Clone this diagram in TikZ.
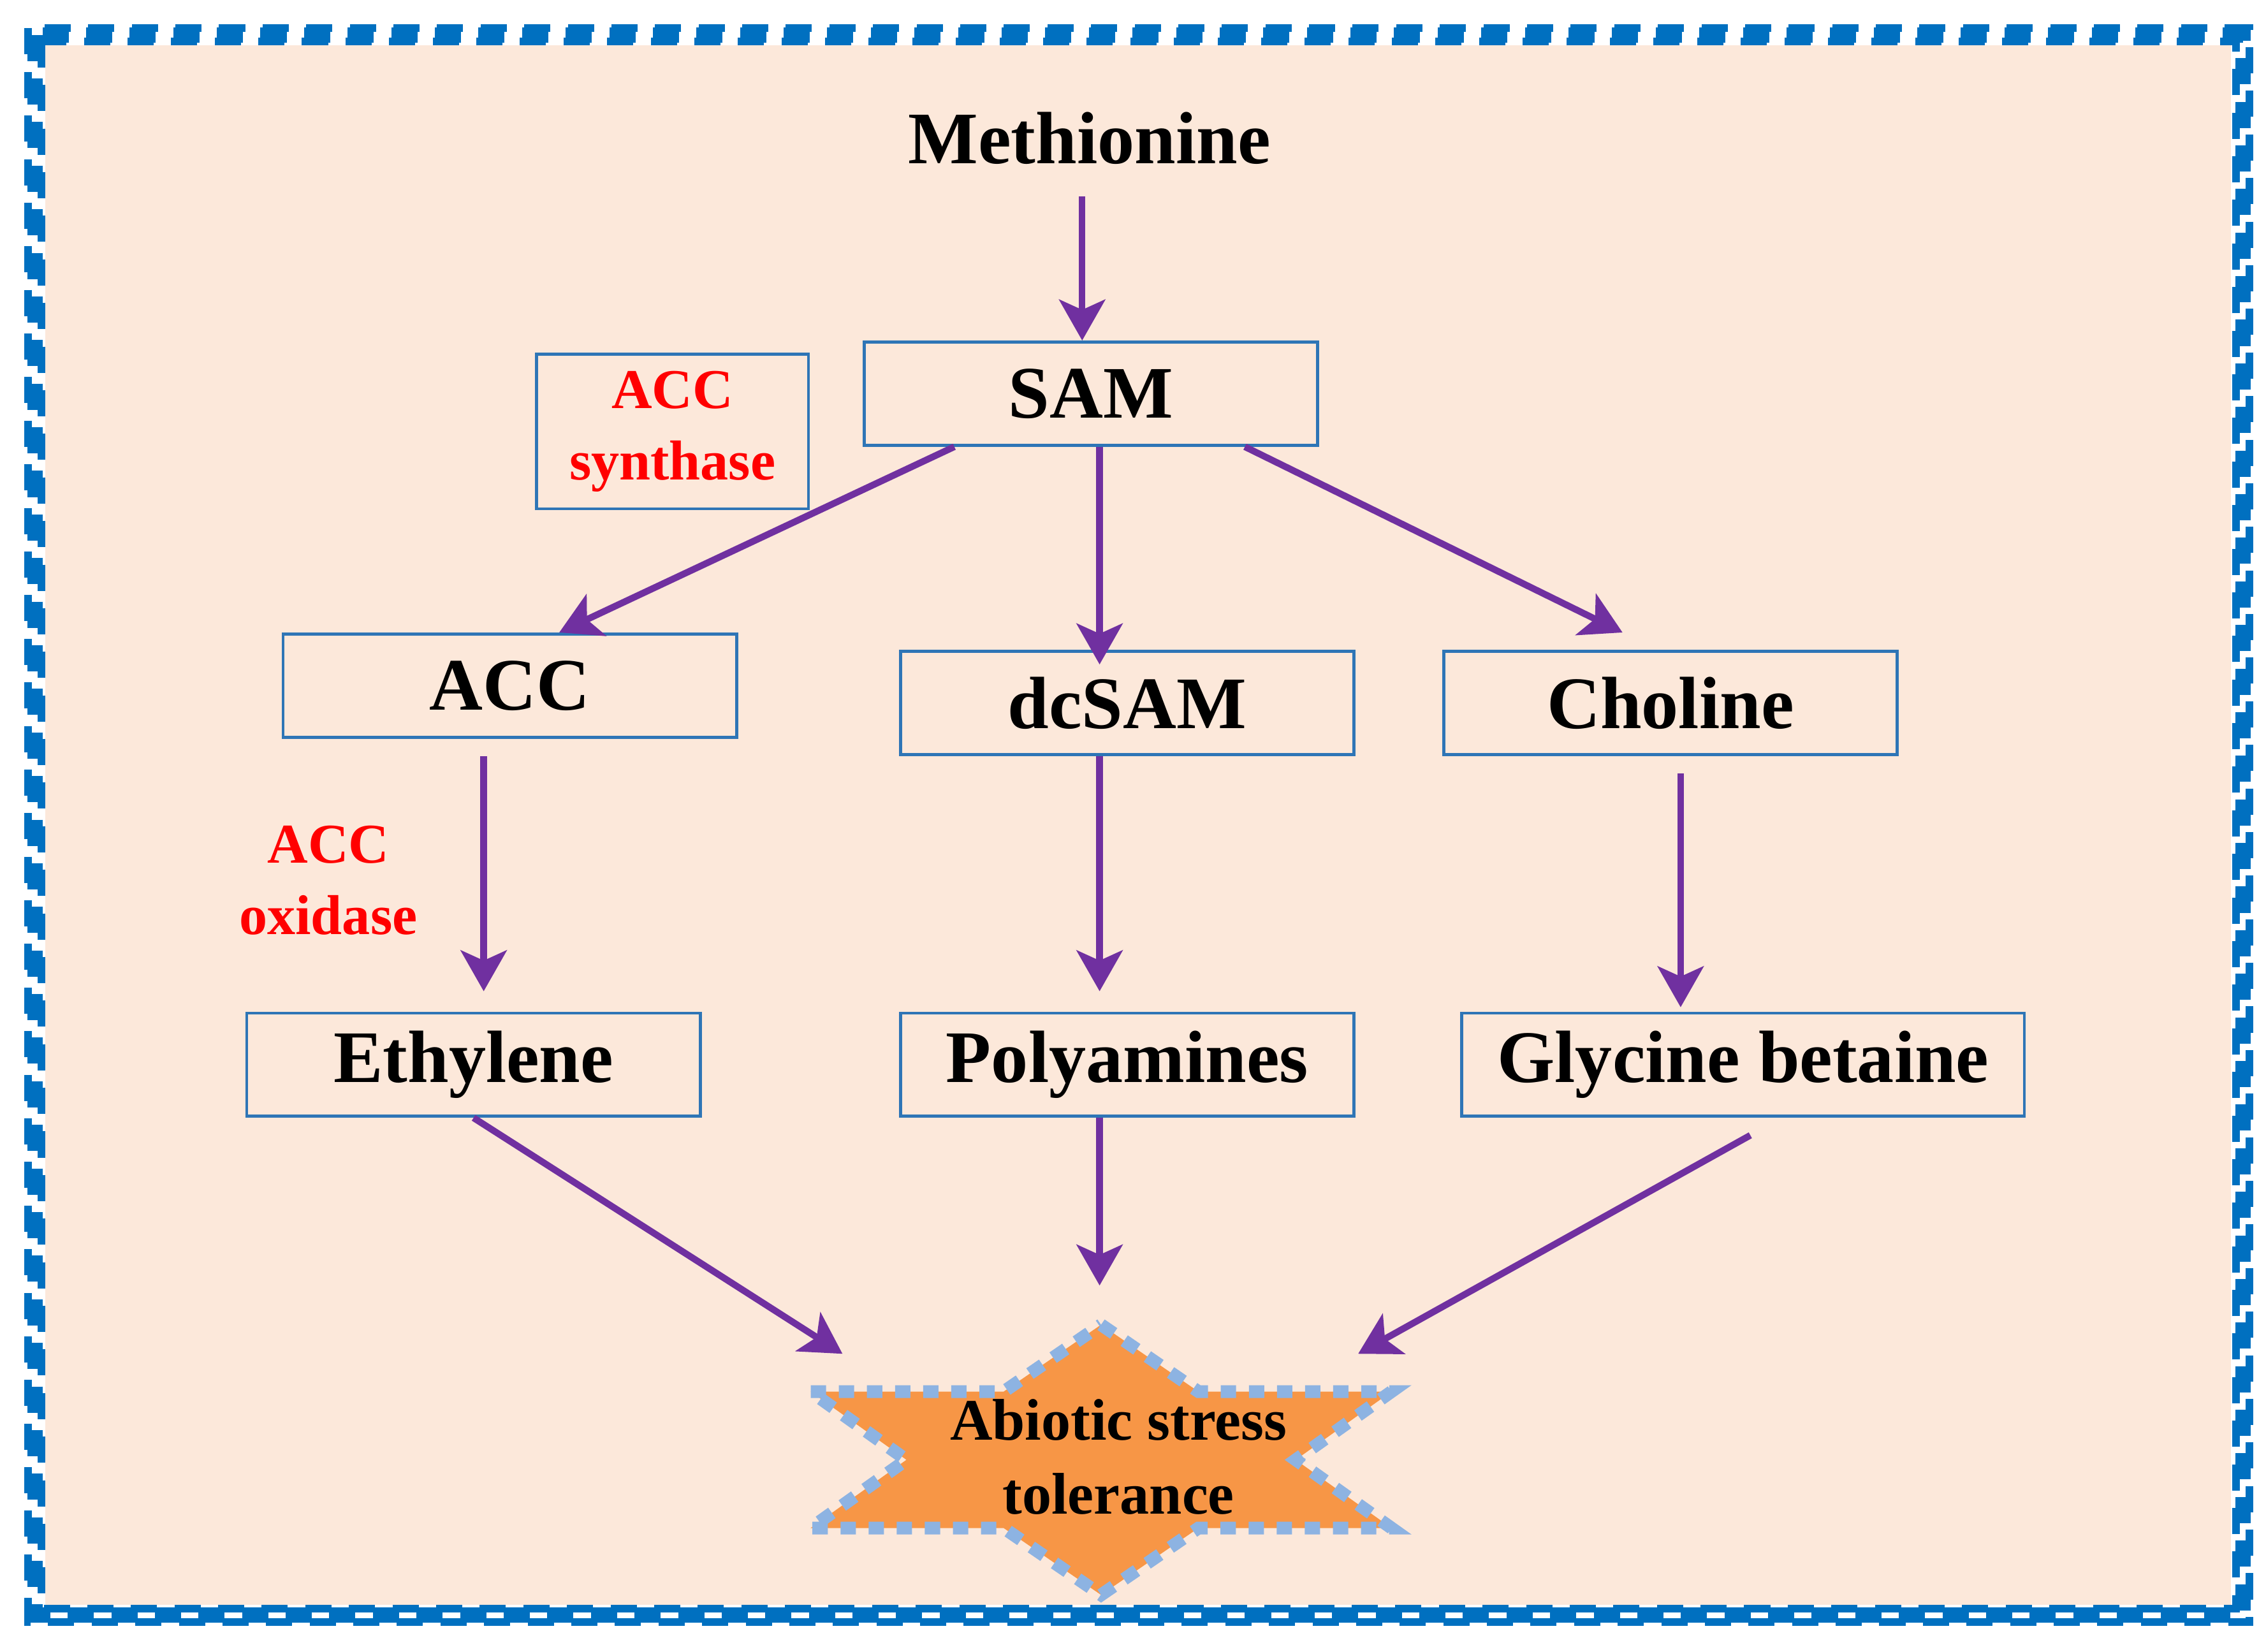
\documentclass[tikz,border=0pt]{standalone}
\usepackage{fontspec}
\setmainfont{Liberation Serif}
\usetikzlibrary{calc,arrows.meta}
\definecolor{peach}{HTML}{FCE8DA}
\definecolor{bblue}{HTML}{0070C0}
\definecolor{boxb}{HTML}{2E75B6}
\definecolor{purp}{HTML}{7030A0}
\definecolor{orng}{HTML}{F79646}
\definecolor{lblue}{HTML}{8DB3E2}
\begin{document}
\begin{tikzpicture}[x=0.01cm,y=-0.01cm,
  box/.style={draw=boxb,line width=0.6pt,minimum width=3.12cm,minimum height=0.71cm,inner sep=0pt,font=\fontsize{14.5}{17}\selectfont\bfseries},
  enz/.style={text=red,font=\fontsize{11}{14}\selectfont\bfseries,align=center},
  arr/.style={draw=purp,line width=1.3pt,-{Stealth[length=8pt,width=9pt,inset=2pt]}}]
\useasboundingbox (0,0) rectangle (1560,1137);
\fill[white] (0,0) rectangle (1560,1137);
\fill[peach] (31,31) rectangle (1536,1105);
\foreach \d/\w in {1.5/1.5,6/3,10.5/1.5}{
  \draw[bblue,line width=\w pt,dash pattern=on 0.18cm off 0.12cm] (18+\d,18+\d) rectangle (1550-\d,1118-\d);
}
\node[font=\fontsize{14.5}{17}\selectfont\bfseries] (met) at (750,95) {Methionine};
\node[box] (sam) at (751,271) {SAM};
\node[draw=boxb,line width=0.6pt,minimum width=1.87cm,minimum height=1cm,enz] (accs) at (463,297) {ACC\\synthase};
\node[box] (acc) at (351,472) {ACC};
\node[box] (dc) at (776,484) {dcSAM};
\node[box] (cho) at (1150,484) {Choline};
\node[box] (eth) at (326,733) {Ethylene};
\node[box] (pol) at (776,733) {Polyamines};
\node[box,minimum width=3.87cm] (gly) at (1200,733) {Glycine betaine};
\node[enz] (acco) at (226,606) {ACC\\oxidase};
\coordinate (st) at (758,1005);
\fill[orng] ($(st)+(0,-93)$) -- ($(st)+(67,-47)$) -- ($(st)+(200,-47)$) -- ($(st)+(134,0)$) -- ($(st)+(200,47)$) -- ($(st)+(67,47)$) -- ($(st)+(0,93)$) -- ($(st)+(-67,47)$) -- ($(st)+(-200,47)$) -- ($(st)+(-134,0)$) -- ($(st)+(-200,-47)$) -- ($(st)+(-67,-47)$) -- cycle;
\draw[lblue,line width=2.5pt,dash pattern=on 3pt off 2.5pt] ($(st)+(0,-93)$) -- ($(st)+(67,-47)$) -- ($(st)+(200,-47)$) -- ($(st)+(134,0)$) -- ($(st)+(200,47)$) -- ($(st)+(67,47)$) -- ($(st)+(0,93)$) -- ($(st)+(-67,47)$) -- ($(st)+(-200,47)$) -- ($(st)+(-134,0)$) -- ($(st)+(-200,-47)$) -- ($(st)+(-67,-47)$) -- cycle;
\node[font=\fontsize{11.5}{14.5}\selectfont\bfseries,align=center] (abs) at (770,1003) {Abiotic stress\\tolerance};
\coordinate (t1) at (580,932);
\coordinate (t2) at (757,885);
\coordinate (t3) at (935,932);
\draw[arr] ($(met.south)+(-5,10)$) -- ($(sam.north)+(-6,0)$);
\draw[arr] ($(sam.south)+(-94,0)$) -- ($(acc.north)+(34,0)$);
\draw[arr] ($(sam.south)+(6,0)$) -- ($(dc.north)+(-19,10)$);
\draw[arr] ($(sam.south)+(106,0)$) -- ($(cho.north)+(-33,-12)$);
\draw[arr] ($(acc.south)+(-18,12)$) -- ($(eth.north)+(7,-14)$);
\draw[arr] ($(dc.south)+(-19,0)$) -- ($(pol.north)+(-19,-14)$);
\draw[arr] ($(cho.south)+(7,12)$) -- ($(gly.north)+(-43,-3)$);
\draw[arr] (eth.south) -- (t1);
\draw[arr] ($(pol.south)+(-19,0)$) -- (t2);
\draw[arr] ($(gly.south)+(5,12)$) -- (t3);
\end{tikzpicture}
\end{document}
